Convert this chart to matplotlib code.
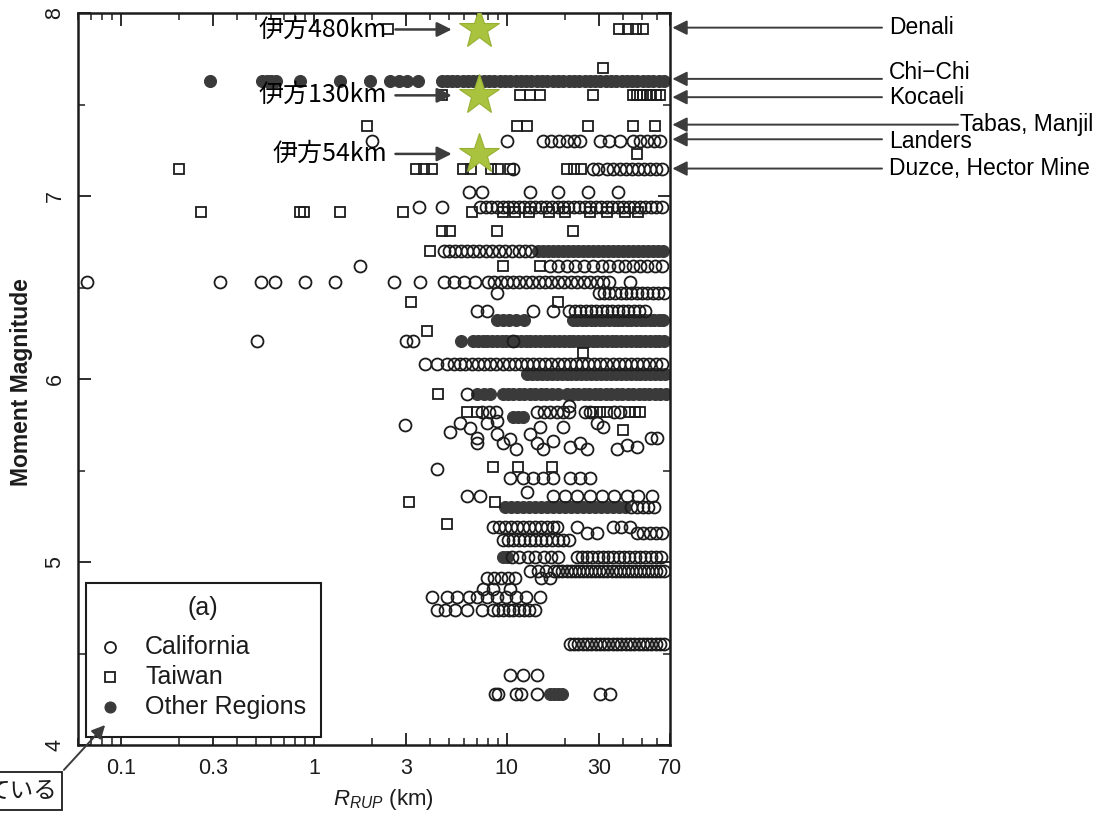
import numpy as np
import matplotlib
matplotlib.use("Agg")
import matplotlib.pyplot as plt
from matplotlib.patches import Rectangle, FancyArrowPatch
from matplotlib.ticker import FixedLocator, FixedFormatter, LogLocator, NullFormatter, MultipleLocator

plt.rcParams['font.family'] = ['Liberation Sans', 'Noto Sans CJK JP']
plt.rcParams['mathtext.fontset'] = 'custom'
plt.rcParams['mathtext.it'] = 'Liberation Sans:italic'
plt.rcParams['mathtext.rm'] = 'Liberation Sans'

# ---------------- data: magnitude rows and rupture distances (km) ----------------
ca_mags = [7.30, 7.15, 7.02, 6.94, 6.70, 6.62, 6.53, 6.47, 6.37, 6.21, 6.08, 5.92, 5.82,
           5.46, 5.36, 5.30, 5.19, 5.16, 5.12, 5.03, 4.95, 4.91, 4.85, 4.81, 4.74, 4.55,
           4.38, 4.28]
ca_dists = [
    [2.0, 10.0, 15.3, 16.9, 18.6, 20.4, 22.2, 24.0, 30.3, 34.0, 38.5, 45.0, 49.0, 53.0, 57.5, 62.0],
    [10.7, 27.9, 29.5, 33.0, 35.5, 38.5, 41.5, 44.5, 48.0, 51.5, 55.0, 59.0, 63.5],
    [6.4, 7.4, 13.2, 18.4, 26.2, 37.5],
    [3.5, 4.6, 7.3, 7.8, 8.3, 8.9, 9.5, 10.1, 10.8, 11.5, 12.3, 13.1, 14.0, 15.0, 16.0, 17.1,
     18.3, 19.5, 20.8, 22.2, 23.7, 25.3, 27.0, 28.8, 30.8, 32.9, 35.1, 37.5, 40.0, 42.7, 45.6,
     48.7, 52.0, 55.5, 59.3, 63.3],
    [4.7, 5.0, 5.4, 5.8, 6.2, 6.7, 7.2, 7.8, 8.4, 9.1, 9.8, 10.6, 11.5, 12.4, 13.4],
    [1.73, 16.7, 18.4, 20.5, 22.6, 25.0, 28.0, 31.0, 34.0, 37.5, 41.0, 45.0, 49.0, 53.5, 58.5, 64.0],
    [0.067, 0.326, 0.53, 0.63, 0.90, 1.28, 2.6, 3.55, 4.7, 5.3, 6.0, 6.8, 8.0, 8.6, 9.3, 10.0,
     10.8, 11.6, 12.5, 13.5, 14.6, 15.8, 17.0, 18.3, 19.8, 21.4, 23.1, 25.0, 27.0, 29.2, 31.5,
     34.0, 43.5],
    [8.9, 30.0, 32.0, 34.0, 36.5, 39.0, 41.5, 44.0, 47.0, 50.0, 53.5, 57.0, 61.0, 65.0],
    [7.0, 7.9, 13.6, 17.3, 21.0, 22.5, 24.0, 25.6, 27.3, 29.0, 31.0, 33.0, 35.0, 37.5, 40.0,
     42.5, 45.5, 48.5, 52.0],
    [0.51, 3.0, 3.25, 10.7],
    [3.75, 4.35, 4.9, 5.3, 5.7, 6.1, 6.6, 7.1, 7.6, 8.2, 8.8, 9.5, 10.2, 11.0, 11.8, 12.7, 13.7,
     14.7, 15.8, 17.0, 18.3, 19.7, 21.2, 22.8, 24.5, 26.4, 28.4, 30.5, 32.8, 35.3, 38.0, 40.9,
     44.0, 47.3, 50.9, 54.8, 59.0, 63.5],
    [6.2],
    [7.4, 8.1, 8.8, 14.3, 15.5, 16.8, 18.2, 19.6, 21.0, 25.5, 27.0, 36.0, 38.5],
    [10.4, 12.1, 13.6, 15.3, 17.3, 21.2, 23.9, 26.9],
    [6.2, 7.25, 17.3, 20.0, 23.0, 27.0, 31.0, 36.0, 42.0, 48.0, 56.5],
    [43.8, 47.0, 50.5, 54.0, 58.0],
    [8.5, 9.1, 9.8, 10.5, 11.3, 12.1, 13.0, 14.0, 15.0, 16.1, 17.3, 18.1, 23.0, 35.6, 39.0, 43.4],
    [25.9, 29.2, 47.0, 51.0, 55.0, 59.0, 64.0],
    [9.5, 10.1, 10.8, 11.5, 12.3, 13.1, 14.0, 15.0, 16.0, 17.1, 18.3, 19.6, 21.0],
    [10.6, 11.6, 12.8, 14.0, 15.5, 17.0, 18.5, 23.0, 24.5, 26.0, 27.5, 29.5, 31.5, 33.5, 35.5,
     38.0, 40.5, 43.0, 46.0, 49.0, 52.0, 55.5, 59.0, 63.0],
    [13.2, 14.5, 16.0, 17.5, 18.5, 19.4, 20.4, 21.4, 22.5, 23.6, 24.8, 26.0, 27.3, 28.7, 30.1,
     31.6, 33.2, 34.9, 36.6, 38.4, 40.3, 42.3, 44.4, 46.6, 48.9, 51.3, 53.9, 56.6, 59.4, 62.4, 65.5],
    [7.9, 8.6, 9.3, 10.1, 11.0, 15.0, 16.7],
    [7.5, 8.5, 10.4],
    [4.1, 4.9, 5.5, 6.4, 7.0, 7.9, 8.9, 9.9, 11.2, 12.6, 14.8],
    [4.33, 4.77, 5.37, 6.2, 7.4, 8.5, 9.0, 9.6, 10.2, 10.8, 11.5, 12.2, 13.0, 14.0],
    [21.2, 22.3, 23.5, 24.7, 26.0, 27.4, 28.8, 30.3, 31.9, 33.6, 35.4, 37.2, 39.2, 41.2, 43.4,
     45.7, 48.1, 50.6, 53.3, 56.1, 59.0, 62.1, 65.4],
    [10.4, 12.1, 14.3],
    [8.7, 9.0, 11.2, 11.9, 14.3, 30.3, 34.2],
]
# individual California recordings between rows
ca_pts_r = [5.07, 5.71, 6.43, 7.0, 7.0, 7.9, 8.9, 8.9, 9.5, 10.4, 11.2, 13.2, 14.3, 14.8, 15.3,
            17.3, 19.5, 21.2, 23.9, 26.0, 29.2, 31.4, 37.0, 41.8, 47.0, 59.6, 56.0, 2.96, 4.33,
            21.0, 12.7]
ca_pts_m = [5.71, 5.76, 5.73, 5.68, 5.65, 5.76, 5.77, 5.70, 5.65, 5.67, 5.62, 5.70, 5.65, 5.74,
            5.62, 5.66, 5.74, 5.63, 5.65, 5.62, 5.76, 5.74, 5.62, 5.64, 5.63, 5.68, 5.68, 5.75,
            5.51, 5.85, 5.38]

tw_mags = [7.91, 7.70, 7.55, 7.38, 7.23, 7.15, 6.91, 6.81, 6.70, 6.62, 6.42, 6.26, 6.14,
           5.92, 5.82, 5.72, 5.52, 5.33, 5.21]
tw_dists = [
    [2.42, 38.0, 42.5, 46.5, 50.5],
    [31.4],
    [4.6, 11.7, 13.2, 14.8, 27.9, 45.0, 47.0, 49.0, 51.0, 53.5, 56.0, 59.0, 62.0],
    [1.88, 11.3, 12.7, 26.3, 44.9, 58.5],
    [47.2],
    [0.20, 3.4, 3.7, 4.1, 5.9, 6.5, 8.3, 9.0, 10.4, 20.4, 22.2, 24.3],
    [0.26, 0.85, 0.89, 1.37, 2.89, 6.6, 9.5, 11.0, 13.0, 16.5, 20.0, 27.0, 33.0, 41.0, 48.0],
    [4.6, 5.07, 8.9, 21.9],
    [4.0],
    [9.5, 14.8],
    [3.2, 18.4],
    [3.85],
    [24.7],
    [4.4],
    [6.2, 7.0, 28.0, 30.5, 33.0, 43.0, 46.0, 49.0],
    [39.9],
    [8.5, 11.4, 17.1],
    [3.1, 8.7],
    [4.9],
]

ot_mags = [7.63, 6.70, 6.32, 6.21, 6.03, 5.92, 5.79, 5.30, 5.03, 4.28]
ot_dists = [
    [0.29, 0.54, 0.57, 0.60, 0.64, 0.85, 1.36, 1.95, 2.48, 2.75, 3.05, 3.46, 4.6, 4.9, 5.2, 5.5,
     5.9, 6.3, 6.7, 7.1, 7.6, 8.1, 8.6, 9.2, 9.8, 10.4, 11.1, 11.8, 12.6, 13.4, 14.3, 15.2, 16.2,
     17.3, 18.4, 19.6, 20.9, 22.3, 23.7, 25.3, 26.9, 28.7, 30.5, 32.5, 34.6, 36.9, 39.3, 41.9,
     44.6, 47.5, 50.6, 53.9, 57.4, 61.2, 65.2],
    [14.5, 15.4, 16.3, 17.3, 18.4, 19.5, 20.7, 22.0, 23.4, 24.8, 26.3, 27.9, 29.6, 31.4, 33.3,
     35.4, 37.6, 39.9, 42.3, 44.9, 47.6, 50.5, 53.6, 56.9, 60.4, 64.1],
    [8.9, 9.6, 10.3, 11.2, 12.3, 21.9, 23.1, 24.4, 25.8, 27.2, 28.7, 30.3, 32.0, 33.8, 35.7,
     37.6, 39.7, 41.9, 44.2, 46.7, 49.3, 52.0, 54.9, 58.0, 61.2, 64.6],
    [5.8, 6.7, 7.1, 7.5, 7.9, 8.4, 8.9, 9.4, 9.9, 10.5, 11.1, 11.8, 12.5, 13.2, 14.0, 14.8, 15.7,
     16.6, 17.6, 18.6, 19.7, 20.9, 22.1, 23.4, 24.8, 26.3, 27.8, 29.4, 31.1, 33.0, 34.9, 36.9,
     39.1, 41.4, 43.8, 46.4, 49.1, 52.0, 55.0, 58.3, 61.7, 65.3],
    [12.7, 13.5, 14.3, 15.2, 16.1, 17.1, 18.1, 19.2, 20.4, 21.6, 22.9, 24.3, 25.8, 27.4, 29.0,
     30.8, 32.7, 34.6, 36.7, 38.9, 41.3, 43.8, 46.4, 49.2, 52.2, 55.4, 58.7, 62.3, 66.0],
    [7.0, 7.6, 8.2, 9.5, 10.1, 10.8, 11.5, 12.3, 13.1, 14.0, 15.0, 16.0, 17.1, 18.3, 20.5, 21.9,
     23.4, 25.0, 26.7, 28.5, 30.4, 32.5, 34.7, 37.0, 39.5, 42.2, 45.0, 48.1, 51.3, 54.8, 58.5,
     62.4, 66.6],
    [10.7, 11.4, 12.1],
    [9.8, 10.5, 11.3, 12.1, 13.0, 14.0, 15.0, 16.1, 17.3, 18.6, 20.0, 21.5, 23.1, 24.8, 26.6,
     28.6, 30.7, 33.0, 35.4, 38.0, 40.8],
    [9.5, 10.0],
    [16.7, 17.5, 18.3, 19.2],
]

# Ikata site: distance and magnitude of the three scenario stars
site_labels = ['伊方480km', '伊方130km', '伊方54km']
site_r = [7.2, 7.2, 7.2]
site_m = [7.91, 7.55, 7.23]

# named events on the right-hand side
event_names = ['Denali', 'Chi\u2212Chi', 'Kocaeli', 'Tabas, Manjil', 'Landers', 'Duzce, Hector Mine']
event_mags = [7.92, 7.64, 7.54, 7.39, 7.31, 7.15]

legend_labels = ['California', 'Taiwan', 'Other Regions']
xtick_vals = [0.1, 0.3, 1, 3, 10, 30, 70]
xtick_labels = ['0.1', '0.3', '1', '3', '10', '30', '70']
ytick_vals = [4, 5, 6, 7, 8]


def flatten(mags, dists):
    xs, ys = [], []
    for m, ds in zip(mags, dists):
        xs.extend(ds)
        ys.extend([m] * len(ds))
    return xs, ys


W, H = 1107, 819
AX_L, AX_T, AX_R, AX_B = 78, 13, 670, 745
fig = plt.figure(figsize=(W / 100, H / 100), dpi=100)
ax = fig.add_axes([AX_L / W, 1 - AX_B / H, (AX_R - AX_L) / W, (AX_B - AX_T) / H])


def ax_frac(px, py):
    """Pixel position on the page -> axes fraction."""
    return (px - AX_L) / (AX_R - AX_L), (AX_B - py) / (AX_B - AX_T)


ink = '#1c1c1c'
dot = '#3a3a3a'
open_circle = dict(ls='none', marker='o', ms=8.6, mfc='none', mec=ink, mew=1.3)
open_square = dict(ls='none', marker='s', ms=7.2, mfc='none', mec=ink, mew=1.3)
filled_dot = dict(ls='none', marker='o', ms=8.6, mfc=dot, mec=dot, mew=0.8)

ox, oy = flatten(ot_mags, ot_dists)
ax.plot(ox, oy, zorder=2, **filled_dot)
cx, cy = flatten(ca_mags, ca_dists)
ax.plot(cx + ca_pts_r, cy + ca_pts_m, zorder=3, **open_circle)
tx, ty = flatten(tw_mags, tw_dists)
ax.plot(tx, ty, zorder=3, **open_square)

ax.plot(site_r, site_m, ls='none', marker='*', ms=30, mfc='#a9c33e', mec='#96b032', mew=0.8,
        zorder=6)

arrow_kw = dict(arrowstyle='-|>', mutation_scale=22, lw=1.8, color='#3c3c3c',
                shrinkA=0, shrinkB=0)
for lab, r, m in zip(site_labels, site_r, site_m):
    ax.annotate('', xy=(r / 1.39, m), xytext=(r / 2.72, m), arrowprops=arrow_kw, zorder=7)
    ax.text(r / 3.02, m, lab, ha='right', va='center', fontsize=18,
            family=['Noto Sans CJK JP', 'DejaVu Sans'], zorder=7)

# event labels with arrows pointing at the right axis
for name, m in zip(event_names, event_mags):
    long_line = name.startswith('Tabas')
    x_start = (958 if long_line else 882) / W
    x_text = (960 if long_line else 889) / W
    ax.annotate('', xy=(1.004, m), xycoords=('axes fraction', 'data'),
                xytext=(x_start, m), textcoords=('figure fraction', 'data'),
                arrowprops=dict(arrowstyle='-|>', mutation_scale=22, lw=1.4, color='#3c3c3c',
                                shrinkA=0, shrinkB=0), annotation_clip=False)
    dy = 6 if name.startswith('Chi') else (-2 if name == 'Landers' else 0)
    ax.annotate(name, xy=(x_text, m), xycoords=('figure fraction', 'data'),
                xytext=(0, dy), textcoords='offset pixels', ha='left',
                va='center', fontsize=16.5, annotation_clip=False)

# axes, scales and ticks
ax.set_xscale('log')
ax.set_xlim(0.06, 70)
ax.set_ylim(4, 8)
ax.xaxis.set_major_locator(FixedLocator(xtick_vals))
ax.xaxis.set_major_formatter(FixedFormatter(xtick_labels))
ax.xaxis.set_minor_locator(LogLocator(base=10, subs=np.arange(2, 10)))
ax.xaxis.set_minor_formatter(NullFormatter())
ax.yaxis.set_major_locator(FixedLocator(ytick_vals))
ax.yaxis.set_minor_locator(MultipleLocator(0.5))
ax.tick_params(which='both', direction='in', top=True, right=True, labelsize=15.5, colors=ink)
ax.tick_params(which='major', length=9, width=1.3, pad=9)
ax.tick_params(which='minor', length=5, width=1.1)
for lbl in ax.get_yticklabels():
    lbl.set_rotation(90)
    lbl.set_va('center')
for sp in ax.spines.values():
    sp.set_linewidth(1.8)
    sp.set_color(ink)

fig.text(22 / W, 1 - 382 / H, 'Moment Magnitude', rotation=90, ha='center', va='center',
         fontsize=16.5, fontweight='bold', color=ink)
fig.text(383 / W, 1 - 800 / H, r'$R_{RUP}$ (km)', ha='center', va='center', fontsize=16,
         color=ink)

# key box in the lower-left corner of the axes
bx0, by0 = ax_frac(86, 737)
bx1, by1 = ax_frac(321, 583)
ax.add_patch(Rectangle((bx0, by0), bx1 - bx0, by1 - by0, transform=ax.transAxes,
                       fc='white', ec=ink, lw=1.5, zorder=10, clip_on=False))
tx0, ty0 = ax_frac(203, 608)
ax.text(tx0, ty0, '(a)', transform=ax.transAxes, ha='center', va='center', fontsize=18,
        color=ink, zorder=11)
key_styles = [open_circle, open_square, filled_dot]
for i, (lab, sty) in enumerate(zip(legend_labels, key_styles)):
    mx, my = ax_frac(110, 647 + 30 * i)
    kx, _ = ax_frac(145, 0)
    s = dict(sty)
    s['ms'] = s['ms'] * 0.92
    ax.plot([mx], [my], transform=ax.transAxes, clip_on=False, zorder=11, **s)
    ax.text(kx, my, lab, transform=ax.transAxes, ha='left', va='center', fontsize=18,
            color=ink, zorder=11)

# boxed note at the lower-left corner
fig.patches.append(Rectangle((-10 / W, 1 - 810 / H), 72 / W, 38 / H, transform=fig.transFigure,
                             fill=False, lw=1.3, ec=ink))
fig.text(57 / W, 1 - 791 / H, 'ている', ha='right', va='center', fontsize=17,
         family=['Noto Sans CJK JP', 'DejaVu Sans'], color=ink)
fig.add_artist(FancyArrowPatch(
    (62 / W, 1 - 772 / H), (107 / W, 1 - 723 / H), transform=fig.transFigure,
    arrowstyle='-|>', mutation_scale=20, lw=1.4, color='#3c3c3c'))

fig.savefig('out.png', dpi=100, facecolor='white')
